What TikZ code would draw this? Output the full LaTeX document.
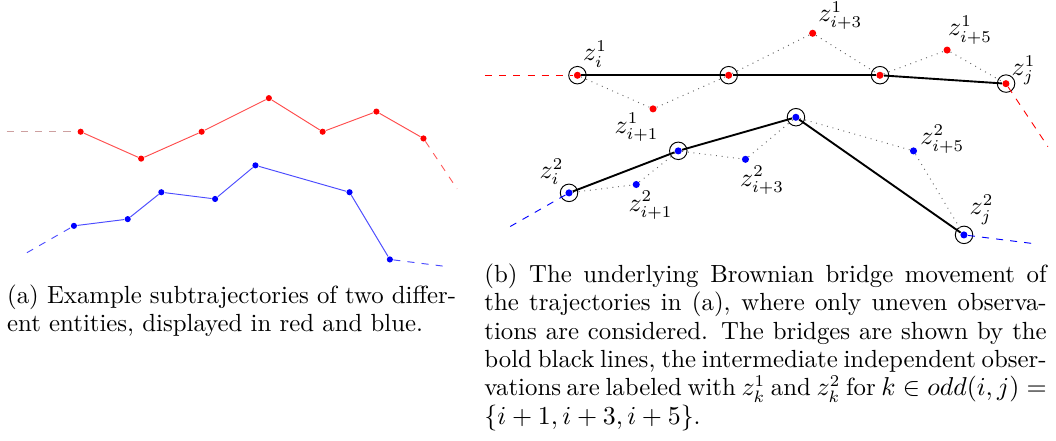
\documentclass[tikz,border=0pt]{standalone}
\definecolor{rojotenue}{RGB}{205,160,160}
\tikzset{
  obs/.style={circle,fill,inner sep=0pt,minimum size=2.6pt},
  obsg/.style={obs,minimum size=3pt},
  ancla/.style={obsg,label={[circle,draw,thin,fill=none,inner sep=0pt,minimum size=7.4pt]center:{}}},
  puente/.style={black,thick},
  libre/.style={gray!80!black,dotted},
  pie/.style={anchor=north west,inner sep=0pt,align=justify,font=\fontsize{10.5}{12}\selectfont},
  every label/.style={inner sep=1pt,font=\fontsize{10.5}{12}\selectfont}
}
\begin{document}
\begin{tikzpicture}
  \useasboundingbox (0,0) rectangle (15.71,6.56);

  % (a) Subtrayectoria roja
  \node[obs,red] (r1) at (1.2,4.6) {};
  \node[obs,red] (r2) at (2.1,4.2) {};
  \node[obs,red] (r3) at (3.0,4.6) {};
  \node[obs,red] (r4) at (4.0,5.1) {};
  \node[obs,red] (r5) at (4.8,4.6) {};
  \node[obs,red] (r6) at (5.6,4.9) {};
  \node[obs,red] (r7) at (6.3,4.5) {};
  \coordinate (rs) at (0.1,4.6);
  \coordinate (re) at (6.8,3.75);

  % (a) Subtrayectoria azul
  \node[obs,blue] (b1) at (1.1,3.2) {};
  \node[obs,blue] (b2) at (1.9,3.3) {};
  \node[obs,blue] (b3) at (2.4,3.7) {};
  \node[obs,blue] (b4) at (3.2,3.6) {};
  \node[obs,blue] (b5) at (3.8,4.1) {};
  \node[obs,blue] (b6) at (5.2,3.7) {};
  \node[obs,blue] (b7) at (5.8,2.7) {};
  \coordinate (bs) at (0.4,2.8);
  \coordinate (be) at (6.6,2.6);

  \foreach \from/\to in {r1/r2, r2/r3, r3/r4, r4/r5, r5/r6, r6/r7}
    \draw[red!70] (\from) -- (\to);
  \foreach \from/\to in {b1/b2, b2/b3, b3/b4, b4/b5, b5/b6, b6/b7}
    \draw[blue!70] (\from) -- (\to);
  \draw[rojotenue,dashed] (rs) -- (r1);
  \draw[red!65,dashed] (r7) -- (re);
  \draw[blue!70,dashed] (bs) -- (b1);
  \draw[blue!70,dashed] (b7) -- (be);

  % (b) Los mismos puntos, escalados
  \begin{scope}[shift={(7.09,-0.31)},scale=1.25]
    \node[ancla,red,label={[yshift=1pt]above right:$z_i^1$}] (R1) at (1.2,4.6) {};
    \node[obsg,red,label={[xshift=-7pt,yshift=1pt]below:$z_{i+1}^1$}] (R2) at (2.1,4.2) {};
    \node[ancla,red] (R3) at (3.0,4.6) {};
    \node[obsg,red,label={[yshift=-1pt]above right:$z_{i+3}^1$}] (R4) at (4.0,5.1) {};
    \node[ancla,red] (R5) at (4.8,4.6) {};
    \node[obsg,red,label={[xshift=-2pt]above right:$z_{i+5}^1$}] (R6) at (5.6,4.9) {};
    \node[ancla,red,label={[yshift=-3pt]above right:$z_j^1$}] (R7) at (6.3,4.5) {};
    \coordinate (Rs) at (0.1,4.6);
    \coordinate (Re) at (6.8,3.75);

    \node[ancla,blue,label={[yshift=1pt]above left:$z_i^2$}] (B1) at (1.1,3.2) {};
    \node[obsg,blue,label={[xshift=6pt]below:$z_{i+1}^2$}] (B2) at (1.9,3.3) {};
    \node[ancla,blue] (B3) at (2.4,3.7) {};
    \node[obsg,blue,label={[xshift=7pt]below:$z_{i+3}^2$}] (B4) at (3.2,3.6) {};
    \node[ancla,blue] (B5) at (3.8,4.1) {};
    \node[obsg,blue,label={[yshift=5pt]right:$z_{i+5}^2$}] (B6) at (5.2,3.7) {};
    \node[ancla,blue,label={[yshift=2pt]above right:$z_j^2$}] (B7) at (5.8,2.7) {};
    \coordinate (Bs) at (0.4,2.8);
    \coordinate (Be) at (6.6,2.6);
  \end{scope}

  % Observaciones intermedias
  \foreach \from/\to in {R1/R2, R2/R3, R3/R4, R4/R5, R5/R6, R6/R7,
                         B1/B2, B2/B3, B3/B4, B4/B5, B5/B6, B6/B7}
    \draw[libre] (\from) -- (\to);

  % Puentes
  \foreach \from/\to in {R1/R3, R3/R5, R5/R7, B1/B3, B3/B5, B5/B7}
    \draw[puente] (\from) -- (\to);
  \draw[red,dashed] (Rs) -- (R1);
  \draw[red,dashed] (R7) -- (Re);
  \draw[blue,dashed] (Bs) -- (B1);
  \draw[blue,dashed] (B7) -- (Be);

  % Subtítulos
  \node[pie,text width=190pt] (capa) at (0.10,2.33)
    {(a) Example subtrajectories of two different entities, displayed in red and blue.};
  \node[pie,text width=238pt] (capb) at (7.20,2.64)
    {(b) The underlying Brownian bridge movement of the trajectories in (a), where only uneven observations are considered. The bridges are shown by the bold black lines, the intermediate independent observations are labeled with $z_k^1$ and $z_k^2$ for $k \in odd(i,j) = \{i+1, i+3, i+5\}$.};
\end{tikzpicture}
\end{document}
